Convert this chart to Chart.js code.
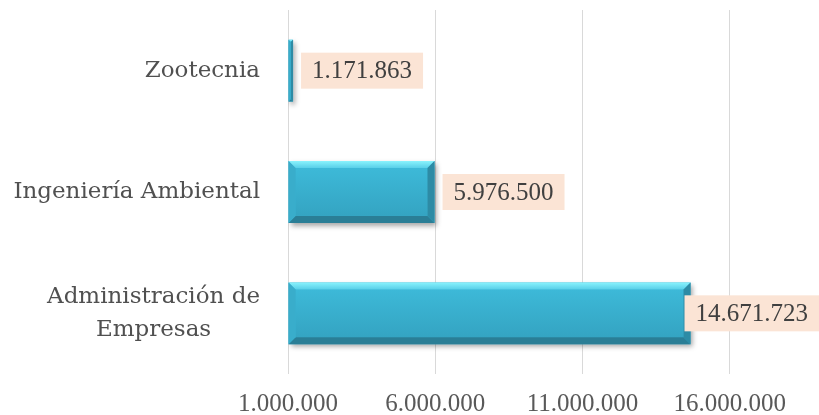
<!DOCTYPE html>
<html>
<head>
<meta charset="utf-8">
<script src="https://cdn.jsdelivr.net/npm/chart.js@4.4.0/dist/chart.umd.min.js"></script>
<style>
  html, body { margin: 0; padding: 0; background: #fff; }
  #wrap { width: 819px; height: 415px; }
</style>
</head>
<body>
<div id="wrap"><canvas id="myChart"></canvas></div>
<script>
const carreras = [['Zootecnia'], ['Ingeniería Ambiental'], ['Administración de', 'Empresas']];
const montos = [1171863, 5976500, 14671723];
const marcasX = [1000000, 6000000, 11000000, 16000000];
const ejeMin = 1000000;
const ejeMax = 19000000;

function puntos(n) {
    return String(Math.round(n)).replace(/\B(?=(\d{3})+(?!\d))/g, '.');
}

// sombra suave debajo de las barras
const sombra = {
    id: 'sombra',
    beforeDatasetDraw(chart) {
        const ctx = chart.ctx;
        ctx.save();
        ctx.shadowColor = 'rgba(0,0,0,0.35)';
        ctx.shadowBlur = 5;
        ctx.shadowOffsetX = 2;
        ctx.shadowOffsetY = 3;
    },
    afterDatasetDraw(chart) {
        chart.ctx.restore();
    }
};

// bisel tipo 3D sobre cada barra
const bisel = {
    id: 'bisel',
    afterDatasetsDraw(chart) {
        const ctx = chart.ctx;
        chart.getDatasetMeta(0).data.forEach(bar => {
            const x0 = Math.min(bar.base, bar.x);
            const x1 = Math.max(bar.base, bar.x);
            const t = bar.y - bar.height / 2;
            const bt = bar.y + bar.height / 2;
            const b = Math.min(7, (x1 - x0) / 2);
            const poly = (pts, color) => {
                ctx.beginPath();
                ctx.moveTo(pts[0][0], pts[0][1]);
                pts.slice(1).forEach(p => ctx.lineTo(p[0], p[1]));
                ctx.closePath();
                ctx.fillStyle = color;
                ctx.fill();
            };
            ctx.save();
            // cuerpo con degradado vertical
            const g = ctx.createLinearGradient(0, t, 0, bt);
            g.addColorStop(0, '#3EBCDB');
            g.addColorStop(1, '#33A1BF');
            ctx.fillStyle = g;
            ctx.fillRect(x0 + b, t + b, x1 - x0 - 2 * b, bt - t - 2 * b);
            const gt = ctx.createLinearGradient(0, t, 0, t + b);
            gt.addColorStop(0, '#8AF3FD');
            gt.addColorStop(1, '#58CFE8');
            poly([[x0, t], [x1, t], [x1 - b, t + b], [x0 + b, t + b]], gt);
            poly([[x0, bt], [x1, bt], [x1 - b, bt - b], [x0 + b, bt - b]], '#2A7E96');
            poly([[x1, t], [x1, bt], [x1 - b, bt - b], [x1 - b, t + b]], '#2D8BA5');
            poly([[x0, t], [x0, bt], [x0 + b, bt - b], [x0 + b, t + b]], '#39ADCB');
            ctx.restore();
        });
    }
};

// etiquetas de valor con fondo durazno
const etiquetas = {
    id: 'etiquetas',
    afterDatasetsDraw(chart) {
        const ctx = chart.ctx;
        ctx.save();
        ctx.font = '25px "Liberation Serif"';
        ctx.textBaseline = 'middle';
        ctx.textAlign = 'center';
        chart.getDatasetMeta(0).data.forEach((bar, i) => {
            const txt = puntos(montos[i]);
            const w = ctx.measureText(txt).width + 22;
            const h = 36;
            let x = bar.x + 8;
            if (x + w > chart.width) x = chart.width - w;
            ctx.fillStyle = '#FBE4D5';
            ctx.fillRect(x, bar.y - h / 2, w, h);
            ctx.fillStyle = '#404040';
            ctx.fillText(txt, x + w / 2, bar.y + 1);
        });
        ctx.restore();
    }
};

// nombres de las carreras (bloque alineado a la derecha, lineas centradas)
const nombres = {
    id: 'nombres',
    afterDraw(chart) {
        const ctx = chart.ctx;
        const y = chart.scales.y;
        const derecha = 260;
        const alto = 33;
        ctx.save();
        ctx.font = '23px "DejaVu Serif"';
        ctx.fillStyle = '#505050';
        ctx.textBaseline = 'middle';
        ctx.textAlign = 'center';
        carreras.forEach((lineas, i) => {
            const cy = y.getPixelForValue(i);
            const maxW = Math.max(...lineas.map(l => ctx.measureText(l).width));
            const cx = derecha - maxW / 2;
            lineas.forEach((l, k) => {
                ctx.fillText(l, cx, cy + (k - (lineas.length - 1) / 2) * alto);
            });
        });
        ctx.restore();
    }
};

const myCanvas = document.getElementById('myChart').getContext('2d');

const myChart = new Chart(myCanvas, {
    type: 'bar',
    data: {
        labels: carreras,
        datasets: [{
            data: montos,
            base: ejeMin,
            backgroundColor: '#38AFCF',
            borderWidth: 0,
            barPercentage: 0.51,
            categoryPercentage: 1,
        }],
    },
    options: {
        indexAxis: 'y',
        responsive: true,
        maintainAspectRatio: false,
        animation: false,
        layout: {
            padding: { top: 10, right: 1, bottom: 0, left: 0 }
        },
        scales: {
            x: {
                type: 'linear',
                min: ejeMin,
                max: ejeMax,
                afterBuildTicks: (axis) => {
                    axis.ticks = marcasX.map(v => ({ value: v }));
                },
                afterFit: (scale) => { scale.height = 41; },
                ticks: {
                    padding: 18,
                    maxRotation: 0,
                    autoSkip: false,
                    color: '#595959',
                    font: { size: 25, lineHeight: 1, family: '"Liberation Serif", serif' },
                    callback: (v) => puntos(v),
                },
                grid: {
                    color: '#D9D9D9',
                    drawTicks: false,
                },
                border: { display: false },
            },
            y: {
                ticks: { display: false },
                grid: { display: false },
                border: { display: false },
                afterFit: (scale) => { scale.width = 288; },
            }
        },
        plugins: {
            legend: { display: false },
            tooltip: { enabled: false },
        }
    },
    plugins: [sombra, bisel, etiquetas, nombres]
});
</script>
</body>
</html>
